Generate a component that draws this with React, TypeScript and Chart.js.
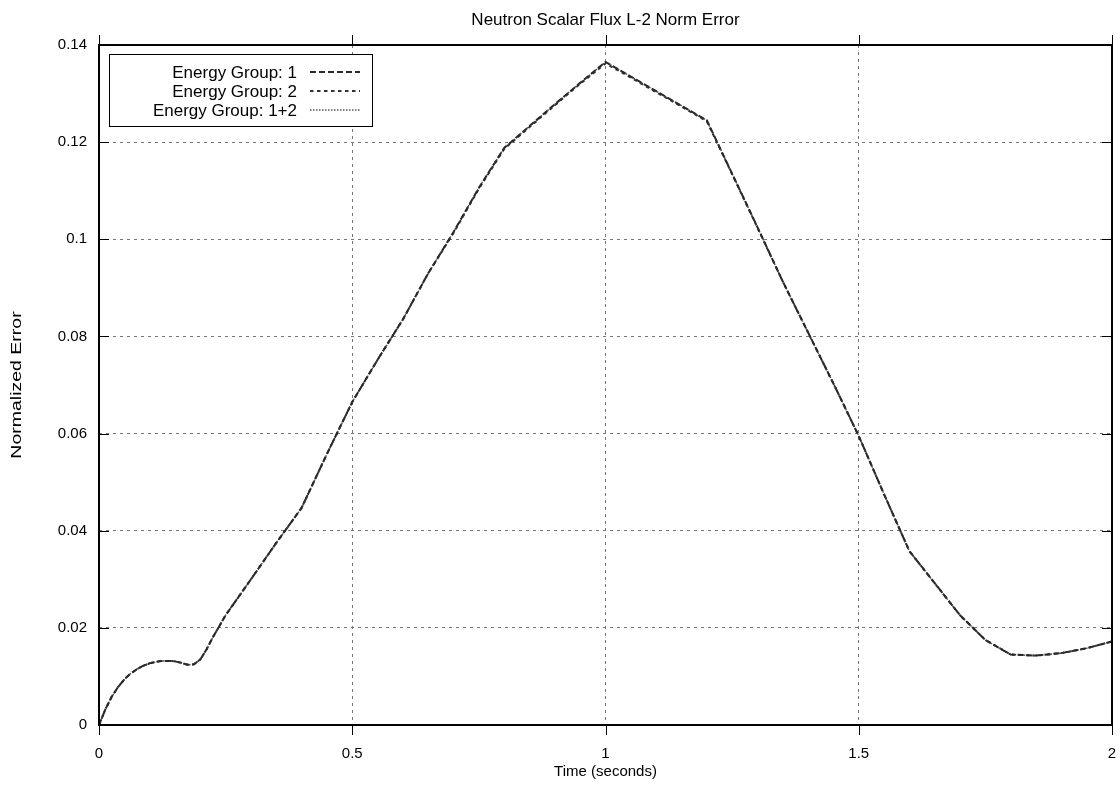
import React, { useEffect, useRef } from "react";
import { Chart, registerables } from "chart.js";

Chart.register(...registerables);

// ---- Data ----
const times = [
  0, 0.0125, 0.025, 0.0375, 0.05, 0.0625, 0.075, 0.0875, 0.1, 0.1125, 0.125,
  0.1375, 0.15, 0.1625, 0.175, 0.1875, 0.2, 0.2125, 0.225, 0.25, 0.3, 0.35,
  0.4, 0.45, 0.5, 0.55, 0.6, 0.65, 0.7, 0.75, 0.8, 0.85, 0.9, 0.95, 1.0, 1.05,
  1.1, 1.15, 1.2, 1.25, 1.3, 1.35, 1.4, 1.45, 1.5, 1.55, 1.6, 1.65, 1.7, 1.75,
  1.8, 1.85, 1.9, 1.95, 2.0,
];
const group1 = [
  0, 0.0032, 0.0058, 0.0078, 0.0094, 0.0106, 0.0115, 0.0122, 0.0127, 0.013,
  0.0132, 0.0132, 0.0131, 0.0128, 0.0124, 0.0125, 0.0135, 0.0156, 0.0181,
  0.0226, 0.03, 0.0375, 0.0447, 0.0558, 0.0665, 0.0752, 0.0835, 0.093, 0.1015,
  0.1106, 0.1188, 0.1233, 0.1278, 0.1322, 0.1365, 0.1335, 0.1305, 0.1275,
  0.1245, 0.1135, 0.1025, 0.0913, 0.0808, 0.0703, 0.0595, 0.0475, 0.0358,
  0.0292, 0.0226, 0.0175, 0.0145, 0.0143, 0.0148, 0.0158, 0.0172,
];
const group2 = [
  0, 0.0032, 0.0058, 0.0078, 0.0094, 0.0106, 0.0115, 0.0122, 0.0127, 0.013,
  0.0132, 0.0132, 0.0131, 0.0128, 0.0124, 0.0125, 0.0135, 0.0156, 0.0181,
  0.0226, 0.03, 0.0375, 0.0447, 0.0558, 0.0665, 0.0752, 0.0835, 0.093, 0.1013,
  0.1104, 0.1186, 0.1231, 0.1276, 0.132, 0.1362, 0.1333, 0.1303, 0.1273,
  0.1243, 0.1134, 0.1024, 0.0913, 0.0808, 0.0703, 0.0595, 0.0475, 0.0358,
  0.0292, 0.0226, 0.0175, 0.0145, 0.0143, 0.0148, 0.0158, 0.0172,
];
const groupSum = [
  0, 0.0032, 0.0058, 0.0078, 0.0094, 0.0106, 0.0115, 0.0122, 0.0127, 0.013,
  0.0132, 0.0132, 0.0131, 0.0128, 0.0124, 0.0125, 0.0135, 0.0156, 0.0181,
  0.0226, 0.03, 0.0375, 0.0447, 0.0558, 0.0665, 0.0752, 0.0835, 0.093, 0.1015,
  0.1106, 0.1188, 0.1233, 0.1278, 0.1322, 0.1365, 0.1335, 0.1305, 0.1275,
  0.1245, 0.1135, 0.1025, 0.0913, 0.0808, 0.0703, 0.0595, 0.0475, 0.0358,
  0.0292, 0.0226, 0.0175, 0.0145, 0.0143, 0.0148, 0.0158, 0.0172,
];
const xTicks = [0, 0.5, 1, 1.5, 2];
const yTicks = [0, 0.02, 0.04, 0.06, 0.08, 0.1, 0.12, 0.14];
const seriesLabels = ["Energy Group: 1", "Energy Group: 2", "Energy Group: 1+2"];
const chartTitle = "Neutron Scalar Flux L-2 Norm Error";
const xTitle = "Time (seconds)";
const yTitle = "Normalized Error";

const FONT = "'Liberation Sans', Arial, Helvetica, sans-serif";

const gnuplotDecor = {
  id: "gnuplotDecor",
  afterDatasetsDraw(chart: any) {
    const { ctx, chartArea: a, scales } = chart;
    ctx.save();
    ctx.setLineDash([]);
    ctx.strokeStyle = "#000";
    ctx.lineWidth = 1;
    // y ticks (inward, mirrored)
    for (const v of yTicks) {
      const y = Math.round(scales.y.getPixelForValue(v)) + 0.5;
      ctx.beginPath();
      ctx.moveTo(a.left, y);
      ctx.lineTo(a.left + 10, y);
      ctx.moveTo(a.right - 10, y);
      ctx.lineTo(a.right, y);
      ctx.stroke();
    }
    // x ticks (outward, mirrored)
    for (const v of xTicks) {
      const x = Math.round(scales.x.getPixelForValue(v)) + 0.5;
      ctx.beginPath();
      ctx.moveTo(x, a.bottom);
      ctx.lineTo(x, a.bottom + 10);
      ctx.moveTo(x, a.top - 10);
      ctx.lineTo(x, a.top);
      ctx.stroke();
    }
    // frame
    ctx.lineWidth = 2;
    ctx.strokeRect(a.left, a.top, a.right - a.left, a.bottom - a.top);

    // title
    ctx.fillStyle = "#000";
    ctx.font = `17px ${FONT}`;
    ctx.textAlign = "center";
    ctx.textBaseline = "alphabetic";
    ctx.fillText(chartTitle, (a.left + a.right) / 2, 25);

    // y-axis title (gnuplot renders it elongated)
    ctx.save();
    ctx.translate(17, (a.top + a.bottom) / 2);
    ctx.rotate(-Math.PI / 2);
    ctx.scale(1.3, 1);
    ctx.font = `15px ${FONT}`;
    ctx.textAlign = "center";
    ctx.textBaseline = "middle";
    ctx.fillText(yTitle, 0, 0);
    ctx.restore();

    // legend (gnuplot style: text right-aligned, sample on the right)
    const bx = a.left + 10;
    const by = a.top + 9;
    ctx.fillStyle = "#fff";
    ctx.fillRect(bx, by, 263, 72);
    ctx.lineWidth = 1;
    ctx.strokeStyle = "#000";
    ctx.strokeRect(bx + 0.5, by + 0.5, 263, 72);
    ctx.font = `17px ${FONT}`;
    ctx.textAlign = "right";
    ctx.textBaseline = "middle";
    chart.data.datasets.forEach((ds: any, i: number) => {
      const y = by + 18 + i * 19;
      ctx.fillStyle = "#000";
      ctx.fillText(ds.label, bx + 188, y + 1);
      ctx.beginPath();
      ctx.strokeStyle = ds.borderColor;
      ctx.lineWidth = ds.borderWidth;
      ctx.setLineDash(ds.borderDash || []);
      ctx.moveTo(bx + 201, y);
      ctx.lineTo(bx + 251, y);
      ctx.stroke();
    });
    ctx.restore();
  },
};

export default function App() {
  const canvasRef = useRef<HTMLCanvasElement | null>(null);

  useEffect(() => {
    if (!canvasRef.current) return;
    const mk = (ys: number[]) => times.map((t, i) => ({ x: t, y: ys[i] }));
    const chart = new Chart(canvasRef.current, {
      type: "line",
      data: {
        datasets: [
          {
            label: seriesLabels[0],
            data: mk(group1),
            borderColor: "#2a2a2a",
            borderWidth: 2,
            borderDash: [6, 3],
            pointRadius: 0,
            tension: 0,
            fill: false,
          },
          {
            label: seriesLabels[1],
            data: mk(group2),
            borderColor: "#333333",
            borderWidth: 2,
            borderDash: [3.5, 3.5],
            pointRadius: 0,
            tension: 0,
            fill: false,
          },
          {
            label: seriesLabels[2],
            data: mk(groupSum),
            borderColor: "#555555",
            borderWidth: 1.5,
            borderDash: [1.5, 1.5],
            pointRadius: 0,
            tension: 0,
            fill: false,
          },
        ],
      },
      options: {
        responsive: false,
        animation: false,
        layout: { padding: { top: 45, right: 8, left: 0, bottom: 0 } },
        plugins: {
          legend: { display: false },
          title: { display: false },
          tooltip: { enabled: false },
        },
        scales: {
          x: {
            type: "linear",
            min: 0,
            max: 2,
            afterBuildTicks: (s: any) => {
              s.ticks = xTicks.map((v) => ({ value: v }));
            },
            afterFit: (s: any) => {
              s.height = 66;
              s.paddingLeft = 0;
              s.paddingRight = 0;
            },
            ticks: {
              color: "#000",
              font: { family: FONT, size: 15 },
              padding: 20,
              maxRotation: 0,
              callback: (v: any) => String(Number(Number(v).toFixed(2))),
            },
            grid: {
              color: "#777",
              lineWidth: 1,
              drawTicks: false,
            },
            border: { display: false, dash: [3, 4] },
            title: {
              display: true,
              text: xTitle,
              color: "#000",
              font: { family: FONT, size: 15 },
              padding: { top: 0, bottom: 10 },
            },
          },
          y: {
            type: "linear",
            min: 0,
            max: 0.14,
            afterBuildTicks: (s: any) => {
              s.ticks = yTicks.map((v) => ({ value: v }));
            },
            afterFit: (s: any) => {
              s.width = 99;
            },
            ticks: {
              color: "#000",
              font: { family: FONT, size: 15 },
              padding: 12,
              callback: (v: any) => String(Number(Number(v).toFixed(2))),
            },
            grid: {
              color: "#777",
              lineWidth: 1,
              drawTicks: false,
            },
            border: { display: false, dash: [3, 4] },
            title: { display: false },
          },
        },
      },
      plugins: [gnuplotDecor],
    });
    return () => chart.destroy();
  }, []);

  return (
    <div
      style={{
        position: "fixed",
        left: 0,
        top: 0,
        width: 1120,
        height: 791,
        background: "#fff",
      }}
    >
      <canvas
        ref={canvasRef}
        width={1120}
        height={791}
        style={{ display: "block", width: 1120, height: 791 }}
      />
    </div>
  );
}
